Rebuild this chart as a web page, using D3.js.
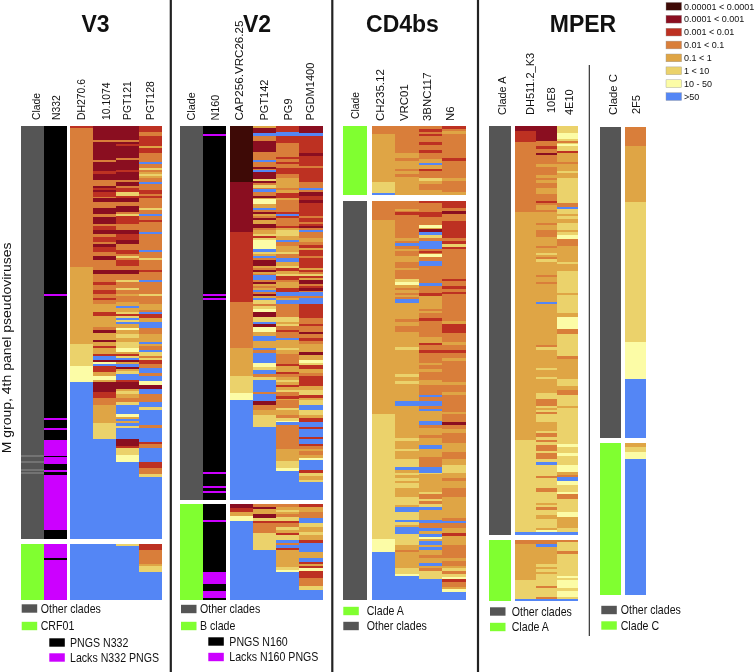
<!DOCTYPE html>
<html><head><meta charset="utf-8">
<script src="https://cdn.jsdelivr.net/npm/d3@7"></script>
<style>html,body{margin:0;padding:0;background:#fff}svg{display:block;filter:blur(0.3px)}text{font-family:"Liberation Sans",Arial,sans-serif;fill:#111}</style>
</head><body><svg id="c" width="756" height="672"></svg>
<script>
// Level codes: 0..7 = IC50 bins; 8 PNGS, 9 lacks PNGS, 10 other clades, 11 highlighted clade, 12 other clades (pale row)
const binLabels=["0.00001 < 0.0001","0.0001 < 0.001","0.001 < 0.01","0.01 < 0.1","0.1 < 1","1 < 10","10 - 50",">50"];
const colors=["#3e0a06","#8a0e20","#bd3122","#d97e3a","#dfa545","#ebd26b","#fcfca6","#5486f5","#000000","#cc00ff","#555555","#80ff30","#737373"];
// each column is a list of runs: [level, last row of the run]
const v3Clade=[[10,164.5],[12,165.5],[10,167.5],[12,168.5],[10,171.5],[12,172.5],[10,173],[12,174],[10,206.5]];
const v3N332=[[8,84],[9,85],[8,146],[9,147],[8,151],[9,152],[8,157],[9,165],[8,165.7],[9,169],[8,172],[9,173],[8,174.5],[9,202],[8,206.5]];
const v3DH270=[[2,1],[3,70.5],[4,109],[5,120],[6,128],[7,206.5]];
const v3_101074=[[1,7],[3,8],[1,17],[3,18],[1,22.5],[2,24],[1,27],[3,30],[1,31],[2,32],[1,33],[2,35.5],[3,36],[1,38],[3,41],[1,44],[3,45.5],[1,49],[3,50],[2,52],[1,54],[3,55.5],[2,58],[3,59],[1,60.5],[2,63],[3,65],[1,67],[3,72],[1,74],[3,78],[2,79.5],[3,82],[2,84],[3,86],[2,87],[3,89],[4,93],[2,95],[4,100.5],[3,102],[1,103.5],[4,107],[1,108],[4,110],[2,111],[4,114],[2,115],[7,117],[1,118],[6,119],[7,120],[2,123],[4,125],[6,127],[4,128],[1,133],[2,136],[3,139.5],[4,148.5],[5,156.5],[7,206.5]];
const v3PGT121=[[1,7],[3,8],[1,9],[2,10],[1,16],[3,17],[1,22],[2,23],[1,27],[3,28],[1,30],[3,31],[2,33],[5,35],[2,36],[1,38],[3,40],[1,43],[3,44],[5,45],[2,49],[3,52],[1,54],[2,57],[1,59],[3,62],[2,64],[3,65],[5,66],[3,67],[2,70],[3,72],[1,74],[3,77],[5,78],[3,81],[5,82],[3,84],[4,85],[3,88],[4,90],[7,91],[4,93],[5,94],[2,95],[5,96],[7,97],[5,98],[7,99],[4,101],[6,102],[4,104],[5,106],[4,108],[5,111],[6,113],[4,114],[2,115],[5,116],[7,117],[1,118],[4,119],[7,120.5],[1,121.5],[4,122.5],[5,124],[7,127],[2,128],[1,131.5],[4,132.8],[5,134],[4,136],[3,138],[5,139.5],[7,144],[6,145.5],[4,146.5],[7,147.5],[4,148.5],[7,150],[5,151],[7,156.5],[1,160],[2,161],[5,164.5],[6,168],[7,206.5]];
const v3PGT128=[[2,3],[3,5],[2,10],[4,11],[2,13.5],[3,18],[7,19],[3,21],[5,22],[3,23],[4,24],[5,25],[4,26],[3,28],[7,29],[3,32],[2,34],[3,35],[2,36],[3,41],[5,42],[3,44],[7,45],[3,47],[2,48],[3,53],[7,54],[3,62],[7,63],[3,66],[5,67],[3,72],[2,73],[3,77],[7,78],[3,84],[5,85],[3,89],[4,92],[3,93],[7,94],[2,96],[4,98],[7,101],[3,104],[4,108],[7,109],[4,110],[3,112],[7,113],[5,115],[3,116],[5,117],[2,119],[3,121],[7,123.5],[3,125],[7,127.5],[6,129.5],[1,131.5],[7,134],[3,138],[7,140.5],[5,142],[7,149.5],[3,151],[7,158],[2,159],[3,161],[7,168],[2,171],[3,174],[5,175.5],[7,206.5]];
const v3CladeB=[[11,28]];
const v3N332B=[[9,7],[8,8],[9,28]];
const v3DH270B=[[7,28]];
const v3_101074B=[[7,28]];
const v3PGT121B=[[5,1],[7,28]];
const v3PGT128B=[[2,3],[3,10],[4,11],[5,14.3],[7,28]];

const v2Clade=[[10,187]];
const v2N160=[[8,4],[9,5],[8,84],[9,85],[8,86],[9,87],[8,173],[9,174],[8,180],[9,181],[8,182.5],[9,183.5],[8,187]];
const v2CAP=[[0,28],[1,53],[2,88],[3,111],[4,125.3],[5,133.7],[6,137],[7,187]];
const v2PGT142=[[4,1],[1,3.5],[7,5],[3,7.5],[1,13],[3,17],[7,18],[3,20.5],[1,21.5],[3,22],[7,23],[1,26.5],[5,27.5],[1,28.5],[3,29.5],[5,31],[3,31.5],[7,33],[3,35],[1,36],[4,36.5],[6,39],[4,41],[7,42],[3,43],[1,44],[4,45],[3,46],[1,47],[4,49],[1,51],[3,52],[4,54],[5,55],[2,56],[5,57],[6,61.5],[7,63],[5,64],[4,65],[7,66],[3,67],[1,70],[4,71],[3,72],[1,73],[4,74],[3,74.5],[7,77],[3,78],[1,79],[4,80],[3,81],[4,82],[7,83],[3,84],[1,85],[4,86],[7,87],[5,89],[3,90],[5,91.5],[6,93],[1,95.5],[5,98],[7,99],[1,100.5],[6,103],[4,105],[7,107.5],[4,111],[7,112],[3,113.5],[7,118.5],[6,120.5],[5,122],[7,124],[3,125.5],[5,127],[7,133],[3,134],[7,137.5],[1,139.5],[3,142],[4,144.5],[5,150.7],[7,187]];
const v2PG9=[[2,3],[7,5],[2,8.5],[3,15.5],[2,16.5],[3,18],[2,19],[3,21],[2,24],[3,26],[4,31],[3,32],[4,33.5],[2,36],[4,37],[3,43],[2,44],[7,45],[2,46],[3,50],[2,51],[4,52],[5,55],[4,57],[7,58],[3,60],[4,63],[5,64],[3,66],[7,68],[4,70],[5,71],[2,72.5],[4,74],[5,75],[2,77],[3,78],[4,81],[2,83],[7,85],[3,86],[4,87],[7,89],[3,95.5],[5,98],[4,99],[5,100],[3,102],[2,103],[3,106],[7,107],[4,111],[5,112],[4,114],[3,119],[2,120.3],[4,123],[2,124],[3,125.7],[4,127],[5,128.3],[4,129.5],[2,130.7],[4,132],[5,133],[3,135.3],[2,136.7],[4,137.3],[3,141],[5,142.3],[4,144.5],[3,146],[5,147.5],[6,148.3],[7,149.5],[3,161.7],[4,167.5],[5,171],[6,172.5],[7,187]];
const v2PGDM=[[1,3.7],[7,5],[2,13.5],[1,15],[2,20],[3,21],[2,28],[3,31],[7,32],[3,33],[1,35],[2,37],[1,38.5],[2,45],[3,46],[2,48],[3,49],[2,50],[1,51],[3,52],[7,53],[3,56],[4,58],[3,59.5],[2,61],[4,62],[2,65],[3,66],[2,71],[4,72],[2,73],[3,74],[5,75],[2,76],[4,77],[1,79],[3,80],[2,81],[1,82.5],[3,83],[7,85],[3,86],[7,89],[2,96],[3,99],[2,100],[3,103],[1,104],[3,106],[2,107.5],[3,109],[4,113],[1,114.5],[4,117],[6,118.5],[5,119.5],[2,121.7],[4,123.5],[3,125.3],[2,130],[4,132],[5,134.5],[2,136],[4,137],[5,139.5],[7,142],[5,144.5],[4,146],[2,148.3],[7,150.7],[2,151.7],[7,155.7],[2,156.7],[7,159],[2,160.3],[3,161.7],[4,162.8],[3,164.5],[4,166],[6,167.3],[7,172.3],[2,173.7],[5,175],[4,177],[5,178.3],[7,187]];
const v2CladeB=[[11,48]];
const v2N160B=[[8,8],[9,9],[8,34],[9,40],[8,43.5],[9,47],[8,48]];
const v2CAPB=[[1,2],[2,4],[4,6],[6,8.5],[7,48]];
const v2PGT142B=[[3,1.3],[1,2.7],[4,5],[1,7],[5,8.3],[2,9.7],[3,14.7],[5,23],[7,48]];
const v2PG9B=[[3,1.3],[4,3],[5,4],[4,5],[3,6.3],[5,8.3],[2,9.7],[3,11.3],[5,13],[4,14.3],[2,15.7],[5,18],[7,19.3],[3,20.5],[7,21.7],[2,23],[4,31.3],[5,33],[6,34],[7,48]];
const v2PGDMB=[[2,1.3],[4,3.8],[3,7.2],[7,9.7],[5,11.3],[4,13.8],[5,15.5],[4,18],[2,19.3],[7,23.8],[4,26.7],[7,28.8],[2,30],[4,31],[2,32],[6,33.5],[2,37],[3,41],[5,43],[7,48]];

const cdCladeA=[[11,34.5]];
const cdCH235A=[[3,4],[4,28],[5,33.3],[7,34.5]];
const cdVRC01A=[[3,13.5],[4,16],[3,17.5],[4,21.5],[3,22.5],[4,24],[3,25.5],[4,34.5]];
const cd3BNCA=[[3,1.5],[2,3],[3,4],[2,5],[3,8],[2,9.5],[3,12],[2,13.5],[3,16.5],[4,18.5],[7,19.5],[4,21.5],[2,22.5],[3,26],[5,27.5],[4,29],[3,32],[4,34.5]];
const cdN6A=[[2,1.5],[3,2.5],[4,4],[3,16],[2,17.5],[3,26],[4,27.5],[3,33],[4,34.5]];
const cdCladeO=[[10,199.5]];
const cdCH235O=[[3,9.5],[4,106.5],[5,169],[6,175.7],[7,199.5]];
const cdVRC01O=[[3,4],[4,5],[3,5.5],[2,7],[3,18.5],[4,20],[3,21],[7,22.5],[3,24],[4,25],[3,27.5],[4,30.5],[3,33.5],[4,34.5],[3,39],[5,40.5],[6,42],[4,43.5],[3,44.5],[4,46],[3,47],[4,48],[3,49],[7,51],[4,59],[3,60.5],[4,62.5],[3,65.5],[4,73],[5,74.5],[4,86.5],[5,88],[4,90],[5,91.5],[4,100],[7,102.5],[4,118.7],[5,120],[4,123.8],[5,125],[4,129],[5,133],[7,134.5],[4,136],[5,137],[4,138.5],[5,140],[4,141],[5,143.5],[4,148],[5,152],[4,153],[7,155.5],[5,159.5],[7,160.5],[5,162],[4,163],[7,166.5],[5,172],[4,174.5],[3,175.7],[4,183.7],[5,186.5],[6,187.5],[7,199.5]];
const cd3BNCO=[[2,1],[3,5.5],[2,8],[3,12],[6,13.5],[4,14.2],[1,15.5],[7,17],[5,18.5],[3,20],[7,24],[3,25],[2,26],[3,26.5],[6,28],[3,30],[7,32.5],[3,41],[7,42.5],[3,46],[2,47.5],[4,54],[3,55],[4,56],[3,58.5],[2,60],[3,68],[4,71],[2,72],[3,74.5],[2,75.8],[3,81],[4,82],[3,84],[4,85.5],[3,89.5],[4,92],[3,97],[7,98],[3,99.8],[7,102.5],[3,103.8],[7,105],[4,110],[7,112],[3,113.5],[4,117],[3,118.7],[4,122],[7,124],[4,127.8],[3,133],[7,135.8],[5,136.5],[4,145.3],[5,146.5],[3,149],[5,150],[3,151.5],[5,153],[7,154.5],[4,159.5],[7,160.8],[3,163.7],[7,165],[4,166.5],[7,167.8],[6,169],[4,170.2],[7,172],[4,172.8],[7,174.5],[4,177],[3,178.7],[4,181.2],[7,182.5],[4,183.7],[3,184.8],[5,189],[7,199.5]];
const cdN6O=[[2,3.5],[3,5],[1,6.5],[3,10],[2,18.5],[3,20],[2,21.5],[5,23],[2,24],[3,39],[2,40],[3,42.5],[2,44],[3,45.5],[2,46.5],[3,60],[4,61.5],[2,66],[3,70.5],[4,72],[3,74.5],[2,76],[3,78.5],[4,79.8],[3,90.5],[4,92],[3,95.3],[4,97],[3,105.3],[4,106.5],[3,110.3],[1,112],[3,114],[4,116],[3,121],[4,125.3],[3,129],[4,132],[5,135.8],[4,138.7],[3,139.8],[4,143.7],[3,147.8],[4,158.7],[3,159.8],[7,161],[3,163.7],[4,166.2],[2,167.5],[4,172],[3,178.7],[4,179.8],[3,182.5],[4,183.7],[5,184.8],[3,186.5],[5,187.8],[6,188.8],[2,190.5],[3,192.8],[4,194],[6,195.5],[7,199.5]];

const mpCladeO=[[10,204.5]];
const mpDH511O=[[1,2.3],[2,8],[3,43],[4,157],[5,202.8],[7,204.5]];
const mp10E8O=[[1,7.3],[3,10],[2,11.3],[3,13.3],[1,14.5],[3,19],[4,20.3],[3,24.7],[4,26],[3,27],[4,28.3],[3,31.2],[4,34],[3,37.3],[2,38.5],[3,39.7],[4,42],[3,43],[4,48.7],[3,49.7],[4,52],[3,55.3],[4,59.8],[3,61],[4,63.3],[5,64.5],[4,65.7],[3,66.7],[5,67.8],[4,74.5],[3,75.7],[4,77.8],[3,79],[4,88],[7,89.2],[4,109.5],[3,110.5],[5,111.8],[4,121],[5,122],[4,125.7],[5,126.7],[4,133.3],[5,136.7],[3,140],[5,140.8],[4,142],[5,143],[3,144],[5,147.8],[4,152.5],[5,153.7],[3,155.7],[5,157],[3,157.8],[5,159.5],[3,162.7],[5,163.7],[3,166.3],[5,167.8],[7,169.5],[5,175],[3,176.2],[5,180.8],[3,183.2],[5,188.7],[4,189.7],[5,190.7],[3,192],[5,194.3],[4,196.7],[5,201.2],[4,202],[6,202.8],[7,204.5]];
const mp4E10O=[[5,3.3],[6,6.7],[5,7.3],[3,8.3],[5,9],[6,10],[5,12.3],[2,13.7],[4,15.7],[4,18],[3,19],[4,22.3],[5,23.7],[4,25.8],[5,38.3],[3,40.7],[7,41.7],[5,44],[4,45],[5,46.3],[4,48.3],[5,52],[4,53],[5,54.5],[6,56.3],[3,59.8],[4,67.8],[5,68.8],[4,72.3],[5,83.3],[4,84.5],[5,93.7],[4,95.3],[6,101.7],[3,104],[5,115],[3,116.3],[4,126.5],[5,130],[4,132],[3,134.5],[5,140],[4,141.2],[5,159],[6,160.7],[5,163.7],[6,165],[5,169.5],[6,172.8],[4,174.5],[3,175.7],[7,177.3],[6,179.5],[5,182.8],[6,184],[3,186.5],[5,193.2],[6,195.7],[4,201.2],[5,202.8],[7,204.5]];
const mpCladeA=[[11,30]];
const mpDH511A=[[3,2],[4,20],[5,29],[7,30]];
const mp10E8A=[[3,2],[7,3.3],[4,12],[5,13.3],[4,14.2],[5,15.8],[4,16.7],[5,22.5],[3,23.5],[5,28],[3,29],[7,30]];
const mp4E10A=[[3,0.8],[5,5.3],[3,6.7],[5,18],[6,19],[5,20],[6,23.7],[5,25],[6,28],[5,29],[7,30]];
const mpCladeOb=[[10,155.5]];
const mp2F5O=[[3,9.7],[4,37.5],[5,107.7],[6,126.3],[7,155.5]];
const mpCladeC=[[11,76]];
const mp2F5C=[[4,1.8],[5,4.2],[6,8],[7,76]];

const panelTitles=["V3","V2","CD4bs","MPER"];
const yAxisLabel="M group, 4th panel pseudoviruses";
const v3Labels=["Clade","N332","DH270.6","10.1074","PGT121","PGT128"];
const v2Labels=["Clade","N160","CAP256.VRC26.25","PGT142","PG9","PGDM1400"];
const cdLabels=["Clade","CH235.12","VRC01","3BNC117","N6"];
const mpLabels=["Clade A","DH511.2_K3","10E8","4E10","Clade C","2F5"];
const cladeLegendTexts=["Other clades","CRF01","PNGS N332","Lacks N332 PNGS","Other clades","B clade","PNGS N160","Lacks N160 PNGS","Clade A","Other clades","Other clades","Clade A","Other clades","Clade C"];
const cladeLegendCodes=[10,11,8,9,10,11,8,9,11,10,10,11,10,11];

const svg=d3.select("#c");
function panel(cols,x0,x1,y0,y1,rows){
  const names=cols.map((c,i)=>i);
  const x=d3.scaleBand(names,[x0,x1]);
  const y=d3.scaleLinear([0,rows],[y0,y1]);
  cols.forEach((runs,i)=>{
    let prev=0;
    svg.append("g").selectAll("rect").data(runs).join("rect")
      .attr("shape-rendering","crispEdges")
      .attr("x",x(i)).attr("width",x.bandwidth())
      .attr("y",d=>{const s=y(prev);d.s=prev;prev=d[1];return s;})
      .attr("height",d=>y(d[1])-y(d.s))
      .attr("fill",d=>colors[d[0]]);
  });
}
// V3
panel([v3Clade,v3N332],21.3,67,125.7,538.7,206.5);
panel([v3DH270,v3_101074,v3PGT121,v3PGT128],70,161.5,125.7,538.7,206.5);
panel([v3CladeB,v3N332B],21.3,67,544,599.7,28);
panel([v3DH270B,v3_101074B,v3PGT121B,v3PGT128B],70,161.5,544,599.7,28);
// V2
panel([v2Clade,v2N160],180,226,125.7,499.7,187);
panel([v2CAP,v2PGT142,v2PG9,v2PGDM],229.7,322.7,125.7,499.7,187);
panel([v2CladeB,v2N160B],180,226,504,600.3,48);
panel([v2CAPB,v2PGT142B,v2PG9B,v2PGDMB],229.7,322.7,504,600.3,48);
// CD4bs
panel([cdCladeA],343.3,367.3,126,195,34.5);
panel([cdCH235A,cdVRC01A,cd3BNCA,cdN6A],372,465.7,126,195,34.5);
panel([cdCladeO],343.3,367.3,201,600,199.5);
panel([cdCH235O,cdVRC01O,cd3BNCO,cdN6O],372,465.7,201,600,199.5);
// MPER
panel([mpCladeO],489.3,510.7,126,535,204.5);
panel([mpDH511O,mp10E8O,mp4E10O],514.7,578,126,535,204.5);
panel([mpCladeA],489.3,510.7,540,600.7,30);
panel([mpDH511A,mp10E8A,mp4E10A],514.7,578,540,600.7,30);
panel([mpCladeOb],600,621,126.7,437.7,155.5);
panel([mp2F5O],625.3,646.3,126.7,437.7,155.5);
panel([mpCladeC],600,621,443.3,595,76);
panel([mp2F5C],625.3,646.3,443.3,595,76);

// dividers
[[170.8,0,672,2.2],[332.3,0,672,2.2],[478,0,672,2.2],[589.3,65,636,1.1]].forEach(l=>
  svg.append("line").attr("x1",l[0]).attr("x2",l[0]).attr("y1",l[1]).attr("y2",l[2]).attr("stroke","#222").attr("stroke-width",l[3]));

// titles
[95.5,257,402.5,583].forEach((x,i)=>
  svg.append("text").attr("x",x).attr("y",32).attr("text-anchor","middle").attr("font-size",23).attr("font-weight","bold").attr("fill","#000").text(panelTitles[i]));

// column labels
function colText(names,xs,ys,sizes){
  names.forEach((t,i)=>svg.append("text").attr("transform",`translate(${xs[i]+3.6},${ys[i]}) rotate(-90)`).attr("font-size",sizes[i]).text(t));
}
colText(v3Labels,[36,56.7,81.7,106.7,127.3,150],[120,120,120,120,120,120],[10.4,10.4,10.4,10.4,10.4,10.4]);
colText(v2Labels,[191.7,215,239.3,264,288.3,310],[120.5,120.5,120.5,120.5,120.5,120.5],[10.8,10.8,11.6,11,11,11.1]);
colText(cdLabels,[355,380.7,404,427.7,450.7],[119,121,121,121,121],[10.4,11.5,11.4,11.4,11.4]);
colText(mpLabels,[502.7,530.7,551.7,569,613.3,636.7],[115,115,113,115,115,114],[11,11,11,11,11.3,11]);

// y label
svg.append("text").attr("transform","translate(10.7,453.3) rotate(-90) scale(1.12,1)").attr("font-size",12.5).text(yAxisLabel);

// clade legends
const legX=[21.7,21.7,49.3,49.3,181,181,208.3,208.3,343.3,343.3,490,490,601.3,601.3];
const legT=[40.7,40.7,70,70,200,200,229.3,229.3,366.7,366.7,511.7,511.7,620.7,620.7];
const legY=[608.5,626,642.5,657.5,609,626,641.5,657,611,626,611.5,627,610,625.5];
const lg=svg.append("g");
lg.selectAll("rect").data(cladeLegendTexts).join("rect").attr("x",(d,i)=>legX[i]).attr("y",(d,i)=>legY[i]-4.2).attr("width",15.5).attr("height",8.4).attr("fill",(d,i)=>colors[cladeLegendCodes[i]]);
lg.selectAll("text").data(cladeLegendTexts).join("text").attr("transform",(d,i)=>`translate(${legT[i]},${legY[i]+4.2}) scale(0.885,1)`).attr("font-size",12).text(d=>d);

// colour legend
const ly=d3.scaleBand(binLabels.map((d,i)=>i),[0,103.2]);
const cl=svg.append("g").attr("transform","translate(666,0)");
cl.selectAll("rect").data(binLabels).join("rect").attr("x",0).attr("y",(d,i)=>ly(i)+2.4).attr("width",15.6).attr("height",7.8).attr("fill",(d,i)=>colors[i]).attr("stroke","#999").attr("stroke-width",0.4);
cl.selectAll("text").data(binLabels).join("text").attr("x",18).attr("y",(d,i)=>ly(i)+9.5).attr("font-size",9).text(d=>d);
</script></body></html>
